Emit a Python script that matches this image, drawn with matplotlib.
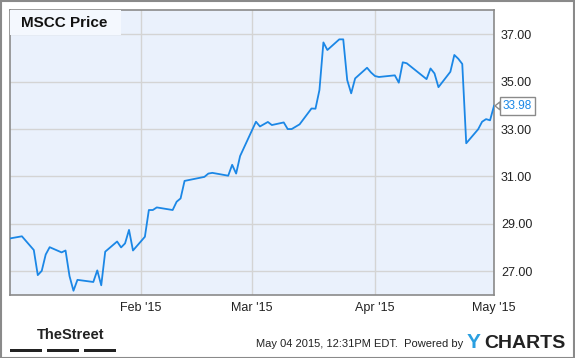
import matplotlib
matplotlib.use('Agg')
import matplotlib.pyplot as plt
import matplotlib.dates as mdates
from matplotlib.patches import Rectangle, Polygon
import pandas as pd

# Данные: цена MSCC (закрытие по дням)
dates = ['2014-12-30', '2015-01-02', '2015-01-05', '2015-01-06', '2015-01-07', '2015-01-08',
         '2015-01-09', '2015-01-12', '2015-01-13', '2015-01-14', '2015-01-15', '2015-01-16',
         '2015-01-20', '2015-01-21', '2015-01-22', '2015-01-23', '2015-01-26', '2015-01-27',
         '2015-01-28', '2015-01-29', '2015-01-30',
         '2015-02-02', '2015-02-03', '2015-02-04', '2015-02-05', '2015-02-09', '2015-02-10',
         '2015-02-11', '2015-02-12', '2015-02-17', '2015-02-18', '2015-02-19', '2015-02-23',
         '2015-02-24', '2015-02-25', '2015-02-26',
         '2015-03-02', '2015-03-03', '2015-03-05', '2015-03-06', '2015-03-09', '2015-03-10',
         '2015-03-11', '2015-03-13', '2015-03-16', '2015-03-17', '2015-03-18', '2015-03-19',
         '2015-03-20', '2015-03-23', '2015-03-24', '2015-03-25', '2015-03-26', '2015-03-27',
         '2015-03-30', '2015-03-31',
         '2015-04-01', '2015-04-02', '2015-04-06', '2015-04-07', '2015-04-08', '2015-04-09',
         '2015-04-14', '2015-04-15', '2015-04-16', '2015-04-17', '2015-04-20', '2015-04-21',
         '2015-04-22', '2015-04-23', '2015-04-24', '2015-04-27', '2015-04-28', '2015-04-29',
         '2015-04-30', '2015-05-01']
prices = [28.38, 28.47, 27.89, 26.83, 27.01, 27.70,
          28.01, 27.79, 27.87, 26.79, 26.17, 26.63,
          26.54, 27.03, 26.40, 27.82, 28.25, 28.00,
          28.17, 28.74, 27.87,
          28.45, 29.58, 29.58, 29.69, 29.58, 29.93,
          30.07, 30.81, 30.98, 31.12, 31.15, 31.03,
          31.49, 31.12, 31.86,
          33.31, 33.11, 33.30, 33.17, 33.28, 33.00,
          33.00, 33.20, 33.87, 33.86, 34.65, 36.66,
          36.34, 36.79, 36.79, 35.07, 34.51, 35.14,
          35.59, 35.39,
          35.24, 35.20, 35.27, 34.96, 35.82, 35.78,
          35.11, 35.56, 35.35, 34.77, 35.42, 36.13,
          35.97, 35.75, 32.40, 32.99, 33.31, 33.42,
          33.37, 33.98]

y_ticks = [27, 29, 31, 33, 35, 37]
x_ticks = ['2015-02-01', '2015-03-01', '2015-04-01', '2015-05-01']
x_labels = ["Feb '15", "Mar '15", "Apr '15", "May '15"]

plt.rcParams['font.family'] = ['Liberation Sans', 'DejaVu Sans']

W, H = 575, 358
fig = plt.figure(figsize=(W / 100, H / 100), dpi=100)
fig.patch.set_facecolor('white')

# рамка вокруг всей картинки
fig.patches.append(Rectangle((0.5 / W, 0.5 / H), 1 - 1.5 / W, 1 - 1.5 / H,
                             transform=fig.transFigure, fill=False,
                             edgecolor='#8a8a8a', linewidth=1.5))

ax = fig.add_axes([10 / W, 1 - 295 / H, 484 / W, 285 / H])
ax.set_facecolor('#eaf1fc')

x = pd.to_datetime(dates)
line_color = '#1b87e6'
ax.plot(x, prices, color=line_color, linewidth=1.3, zorder=3)

ax.set_xlim(pd.Timestamp('2014-12-30'), pd.Timestamp('2015-05-01'))
ax.set_ylim(25.99, 38.03)

ax.set_yticks(y_ticks)
ax.set_yticklabels([f'{v:.2f}' for v in y_ticks])
ax.yaxis.tick_right()
ax.set_xticks(pd.to_datetime(x_ticks))
ax.set_xticklabels(x_labels)
ax.tick_params(length=0, labelsize=9, colors='#222222', pad=5)

ax.grid(True, color='#d4d4d4', linewidth=1)
ax.set_axisbelow(True)
for s in ax.spines.values():
    s.set_color('#8a8a8a')
    s.set_linewidth(1.2)

# заголовок в углу графика
fig.patches.append(Rectangle((10 / W, 1 - 35 / H), 111 / W, 25 / H,
                             transform=fig.transFigure, facecolor='#f4f8fe',
                             edgecolor='none', zorder=5))
fig.text(21 / W, 1 - 23 / H, 'MSCC Price', fontsize=11, fontweight='bold',
         color='#111111', va='center', ha='left', zorder=6)

# подпись последнего значения (с уголком-указателем)
last = prices[-1]
ax.annotate(f'{last:.2f}', xy=(x[-1], last), xytext=(6.5, 0), textcoords='offset points',
            color=line_color, fontsize=8.5, va='center', ha='left',
            annotation_clip=False,
            bbox=dict(boxstyle='square,pad=0.25', facecolor='white', edgecolor='#8a8a8a',
                      linewidth=1))
px, py = ax.transData.transform((mdates.date2num(x[-1]), last))
fx, fy = fig.transFigure.inverted().transform((px, py))
fig.patches.append(Polygon([(fx + 1 / W, fy), (fx + 6 / W, fy + 4 / H), (fx + 6 / W, fy - 4 / H)],
                           closed=True, transform=fig.transFigure, facecolor='white',
                           edgecolor='#8a8a8a', linewidth=1, zorder=7))

# подвал: логотип и подпись
fig.text(37 / W, 1 - 335 / H, 'TheStreet', fontsize=10.5, fontweight='bold',
         color='#222222', va='center', ha='left')
for bx in [10, 47, 84]:
    fig.patches.append(Rectangle((bx / W, 1 - 352 / H), 32 / W, 3 / H,
                                 transform=fig.transFigure, facecolor='#222222',
                                 edgecolor='none'))
fig.text(463 / W, 1 - 344 / H, 'May 04 2015, 12:31PM EDT.  Powered by', fontsize=8,
         color='#222222', va='center', ha='right')
fig.text(467 / W, 1 - 343 / H, 'Y', fontsize=15, fontweight='bold',
         color='#2a9fe0', va='center', ha='left')
fig.text(484 / W, 1 - 343 / H, 'CHARTS', fontsize=14, fontweight='bold',
         color='#222222', va='center', ha='left')

fig.savefig('out.png', dpi=100)
